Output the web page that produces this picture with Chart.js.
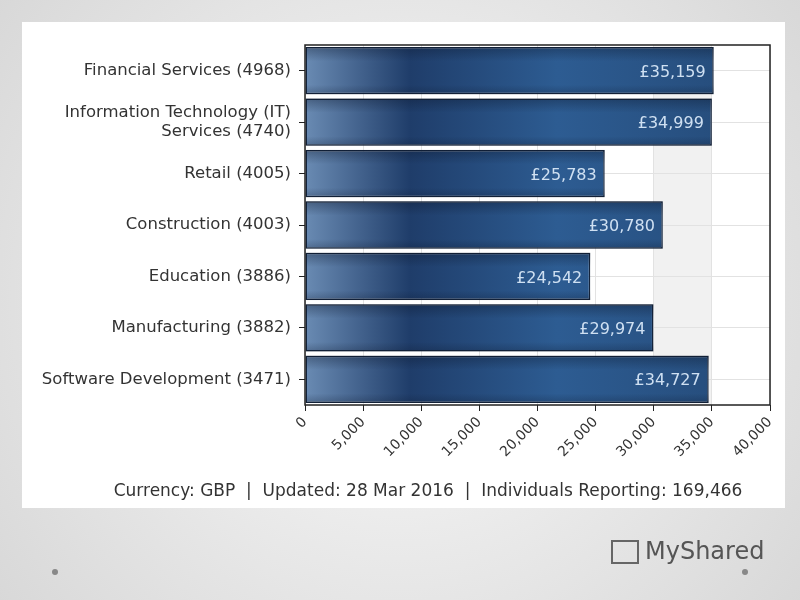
<!DOCTYPE html>
<html><head><meta charset="utf-8">
<script src="https://cdn.jsdelivr.net/npm/chart.js@4"></script>
<style>html,body{margin:0;padding:0;background:#e6e6e6}#c{display:block}</style>
</head><body>
<canvas id="c" width="800" height="600"></canvas>
<script>
const categories = ['Financial Services (4968)', ['Information Technology (IT)', 'Services (4740)'], 'Retail (4005)',
  'Construction (4003)', 'Education (3886)', 'Manufacturing (3882)', 'Software Development (3471)'];
const salaries = [35159, 34999, 25783, 30780, 24542, 29974, 34727];
const footer = 'Currency: GBP  |  Updated: 28 Mar 2016  |  Individuals Reporting: 169,466';

const font = 'DejaVu Sans';

const backdrop = {
  id: 'backdrop',
  beforeDraw(chart) {
    const { ctx, chartArea: a, scales: { x } } = chart;
    ctx.save();
    const g = ctx.createRadialGradient(400, 300, 100, 400, 300, 560);
    g.addColorStop(0, '#f4f4f4'); g.addColorStop(1, '#d4d4d4');
    ctx.fillStyle = g; ctx.fillRect(0, 0, 800, 600);
    ctx.fillStyle = '#fff'; ctx.fillRect(22, 22, 763, 486);
    ctx.fillStyle = '#f1f1f1';
    ctx.fillRect(x.getPixelForValue(30000), a.top, x.getPixelForValue(35000) - x.getPixelForValue(30000), a.height);
    ctx.restore();
  },
  afterDatasetsDraw(chart) {
    const { ctx } = chart;
    const meta = chart.getDatasetMeta(0);
    ctx.save();
    meta.data.forEach(b => {
      const h = b.height, top = b.y - h / 2;
      const g = ctx.createLinearGradient(0, top, 0, top + h);
      g.addColorStop(0, 'rgba(10,20,40,0.35)');
      g.addColorStop(0.3, 'rgba(10,20,40,0)');
      g.addColorStop(0.8, 'rgba(10,20,40,0)');
      g.addColorStop(1, 'rgba(10,20,40,0.25)');
      ctx.fillStyle = g;
      ctx.fillRect(b.base, top, b.x - b.base, h);
    });
    ctx.restore();
  },
  afterDraw(chart) {
    const { ctx, chartArea: a } = chart;
    ctx.save();
    ctx.strokeStyle = '#222'; ctx.lineWidth = 1.5;
    ctx.strokeRect(a.left, a.top, a.width, a.height);
    const meta = chart.getDatasetMeta(0);
    ctx.font = '16px "' + font + '"';
    ctx.fillStyle = '#cfe0f2'; ctx.textAlign = 'right'; ctx.textBaseline = 'middle';
    meta.data.forEach((b, i) => ctx.fillText('£' + salaries[i].toLocaleString('en-GB'), b.x - 8, b.y + 2));
    ctx.fillStyle = '#333'; ctx.textAlign = 'center';
    ctx.font = '17px "' + font + '"';
    ctx.fillText(footer, 428, 492);
    ctx.fillStyle = '#555'; ctx.font = '24px "' + font + '"'; ctx.textAlign = 'left';
    ctx.fillText('MyShared', 645, 553);
    ctx.strokeStyle = '#666'; ctx.lineWidth = 2; ctx.strokeRect(612, 541, 26, 22);
    ctx.fillStyle = '#888';
    [[55, 572], [745, 572]].forEach(([px, py]) => { ctx.beginPath(); ctx.arc(px, py, 3, 0, 7); ctx.fill(); });
    ctx.restore();
  }
};

function barFill(c) {
  const a = c.chart.chartArea;
  if (!a) return '#2c5a8e';
  const g = c.chart.ctx.createLinearGradient(a.left, 0, a.left + 420, 0);
  g.addColorStop(0, '#6a8bb3');
  g.addColorStop(0.25, '#1f3d6a');
  g.addColorStop(0.6, '#2d5c92');
  g.addColorStop(1, '#264d7c');
  return g;
}

new Chart(document.getElementById('c'), {
  type: 'bar',
  data: { labels: categories, datasets: [{ data: salaries, backgroundColor: barFill,
    borderColor: '#14243c', borderWidth: 1.5, borderSkipped: false,
    barPercentage: 0.92, categoryPercentage: 1 }] },
  options: {
    indexAxis: 'y', responsive: false, animation: false,
    layout: { padding: { top: 45, right: 30, left: 0, bottom: 0 } },
    plugins: { legend: { display: false }, tooltip: { enabled: false } },
    scales: {
      x: { min: 0, max: 40000,
        ticks: { stepSize: 5000, maxRotation: 45, minRotation: 45, color: '#333',
          font: { family: font, size: 14 }, callback: v => v.toLocaleString('en-GB') },
        grid: { color: '#e2e2e2', drawTicks: true, tickLength: 6, tickColor: '#222' },
        border: { display: false },
        afterFit: s => { s.height = 195; } },
      y: { ticks: { color: '#333', font: { family: font, size: 16.5 }, padding: 8 },
        grid: { color: '#e2e2e2', offset: false, tickLength: 6, tickColor: '#222' },
        border: { display: false },
        afterFit: s => { s.width = 305; } }
    }
  },
  plugins: [backdrop]
});
</script>
</body></html>
